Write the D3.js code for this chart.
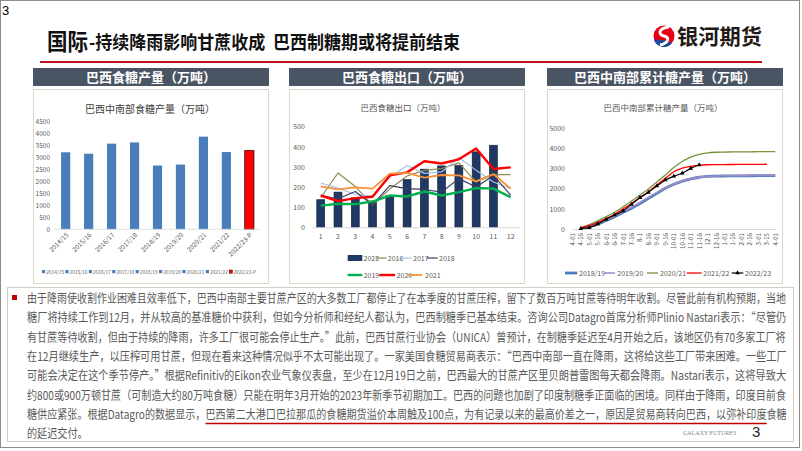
<!DOCTYPE html>
<html>
<head>
<meta charset="utf-8">
<script src="https://cdn.jsdelivr.net/npm/d3@7"></script>
<style>
  body { margin: 0; background: #fff; }
  svg { display: block; }
  text { font-family: "Noto Sans CJK SC", "Noto Sans", sans-serif; }
</style>
</head>
<body>
<svg id="slide" width="802" height="451"></svg>
<script>
// ---- data ----
const prodSeasons = ["2014/15", "2015/16", "2016/17", "2017/18", "2018/19", "2019/20", "2020/21", "2021/22", "2022/23-P"];
const prodValues = [3200, 3140, 3560, 3610, 2650, 2690, 3850, 3210, 3270];
const prodTicks = [0, 500, 1000, 1500, 2000, 2500, 3000, 3500, 4000, 4500];

const exportMonths = ["1", "2", "3", "4", "5", "6", "7", "8", "9", "10", "11", "12"];
const export2022 = [137, 175, 147, 130, 158, 237, 289, 305, 308, 375, 408, null];
const export2016 = [148, 270, 203, 110, 190, 255, 283, 292, 320, 225, 262, 262];
const export2017 = [220, 195, 163, 155, 250, 307, 268, 275, 347, 283, 225, 192];
const export2018 = [158, 142, 178, 112, 207, 192, 188, 175, 242, 200, 258, 160];
const export2019 = [108, 117, 115, 128, 158, 153, 178, 158, 175, 195, 192, 150];
const export2020 = [158, 130, 145, 152, 258, 273, 328, 317, 338, 392, 290, 298];
const export2021 = [203, 188, 198, 192, 267, 270, 247, 260, 258, 228, 265, 192];
const exportTicks = [0, 100, 200, 300, 400, 500];

const cumDates = ["4-01", "4-16", "5-01", "5-16", "6-01", "6-16", "7-01", "7-16", "8-1", "8-16", "9-01", "9-16",
  "10-01", "10-16", "11-01", "11-16", "12-1", "12-16", "1-01", "1-16", "2-01", "2-16", "3-01", "3-15", "4-01"];
const cum1819 = [null, 40, 130, 232, 420, 613, 820, 1026, 1270, 1523, 1770, 2020, 2220, 2380, 2490, 2570, 2610, 2625, 2632, 2636, 2640, 2643, 2646, 2648, 2650];
const cum1920 = [null, 50, 150, 260, 450, 650, 860, 1080, 1320, 1570, 1810, 2050, 2240, 2390, 2500, 2575, 2615, 2635, 2642, 2646, 2650, 2653, 2656, 2658, 2660];
const cum2021 = [null, 70, 220, 400, 610, 830, 1100, 1390, 1690, 1990, 2330, 2680, 3050, 3350, 3570, 3710, 3780, 3810, 3820, 3825, 3830, 3834, 3838, 3842, 3845];
const cum2122 = [null, 60, 170, 330, 520, 730, 990, 1270, 1560, 1850, 2190, 2520, 2840, 3020, 3110, 3170, 3190, 3195, 3200, 3203, 3206, 3209, 3212, 3215, null];
const cum2223 = [null, 20, 70, 250, 480, 695, 895, 1225, 1556, 1820, 2135, 2434, 2620, 2770, 3010, 3180, null, null, null, null, null, null, null, null, null];
const cumTicks = [0, 1000, 2000, 3000, 4000, 5000];

const panelTitles = ["巴西食糖产量（万吨）", "巴西食糖出口（万吨）", "巴西中南部累计糖产量（万吨）"];

const paraLines = [
  "由于降雨使收割作业困难且效率低下，巴西中南部主要甘蔗产区的大多数工厂都停止了在本季度的甘蔗压榨，留下了数百万吨甘蔗等待明年收割。尽管此前有机构预期，当地",
  "糖厂将持续工作到12月，并从较高的基准糖价中获利，但如今分析师和经纪人都认为，巴西制糖季已基本结束。咨询公司Datagro首席分析师Plinio Nastari表示：“尽管仍",
  "有甘蔗等待收割，但由于持续的降雨，许多工厂很可能会停止生产。”此前，巴西甘蔗行业协会（UNICA）曾预计，在制糖季延迟至4月开始之后，该地区仍有70多家工厂将",
  "在12月继续生产，以压榨可用甘蔗，但现在看来这种情况似乎不太可能出现了。一家美国食糖贸易商表示：“巴西中南部一直在降雨，这将给这些工厂带来困难。一些工厂",
  "可能会决定在这个季节停产。”根据Refinitiv的Eikon农业气象仪表盘，至少在12月19日之前，巴西最大的甘蔗产区里贝朗普雷图每天都会降雨。Nastari表示，这将导致大",
  "约800或900万顿甘蔗（可制造大约80万吨食糖）只能在明年3月开始的2023年新季节初期加工。巴西的问题也加剧了印度制糖季正面临的困境。同样由于降雨，印度目前食",
  "糖供应紧张。根据Datagro的数据显示，巴西第二大港口巴拉那瓜的食糖期货溢价本周触及100点，为有记录以来的最高价差之一，原因是贸易商转向巴西，以弥补印度食糖",
  "的延迟交付。"
];
const underlinePrefix = "糖供应紧张。根据Datagro的数据显示，";
const underlineText = "巴西第二大港口巴拉那瓜的食糖期货溢价本周触及100点，为有记录以来的最高价差之一，原因是贸易商转向巴西，以弥补印度";

// ---- drawing ----
const svg = d3.select("#slide");
const tickFont = '"Liberation Sans Narrow", "Liberation Sans", sans-serif';
const grey = "#595959";
const fmt = d3.format("d");

// slide frame and page number
svg.append("rect").attr("x", 0.5).attr("y", 0.5).attr("width", 799).attr("height", 447)
  .attr("fill", "#fff").attr("stroke", "#8c8c8c");
svg.append("text").attr("x", 2).attr("y", 15).attr("font-size", 13).attr("fill", "#000")
  .style("font-family", "Liberation Sans, sans-serif").text("3");

// title
svg.append("text").attr("x", 47).attr("y", 50).attr("font-size", 23).attr("font-weight", "bold")
  .attr("fill", "#111").attr("textLength", 41).attr("lengthAdjust", "spacingAndGlyphs").text("国际");
svg.append("text").attr("x", 89).attr("y", 49).attr("font-size", 18).attr("font-weight", "bold")
  .attr("fill", "#111").attr("textLength", 371).attr("lengthAdjust", "spacingAndGlyphs")
  .attr("xml:space", "preserve").text("-持续降雨影响甘蔗收成  巴西制糖期或将提前结束");
svg.append("line").attr("x1", 40).attr("x2", 762).attr("y1", 62).attr("y2", 62)
  .attr("stroke", "#c0141c").attr("stroke-width", 2);

// logo
const logo = svg.append("g").attr("transform", "translate(664,36)");
logo.append("circle").attr("r", 10.5).attr("fill", "#e60012");
logo.append("path").attr("d", "M-10,2 A10.5,10.5 0 0 0 6,9 C0,9 -5,6 -10,2 Z").attr("fill", "#1b4c9c");
logo.append("path").attr("d", "M-10,4 A10.5,10.5 0 0 0 8,7 C3,5 -2,3 -10,4 Z").attr("fill", "#1b4c9c");
logo.append("path").attr("d", "M5,-9 C-6,-8 -6,-1 0,0 C6,1 5,7 -4,9")
  .attr("fill", "none").attr("stroke", "#fff").attr("stroke-width", 3);
svg.append("text").attr("x", 677).attr("y", 44).attr("font-size", 21).attr("font-weight", "bold")
  .attr("fill", "#231916").attr("textLength", 85).attr("lengthAdjust", "spacingAndGlyphs").text("银河期货");

// panel frames and headers
const panelX = [33, 289, 547];
const panelW = 236;
panelX.forEach((px, i) => {
  svg.append("rect").attr("x", px + 0.5).attr("y", 89.5).attr("width", panelW - 1).attr("height", 194)
    .attr("fill", "#fff").attr("stroke", "#dcd7cb");
  svg.append("rect").attr("x", px).attr("y", 68).attr("width", panelW).attr("height", 18).attr("fill", "#4a5563");
  svg.append("text").attr("x", px + panelW / 2).attr("y", 82).attr("text-anchor", "middle")
    .attr("font-size", 13).attr("font-weight", "bold").attr("fill", "#fff").text(panelTitles[i]);
});

function styleAxis(g, size) {
  g.select(".domain").remove();
  g.selectAll("text").attr("font-family", tickFont).attr("font-size", size).attr("fill", grey);
}

// ---- chart 1: production bars ----
{
  const g = svg.append("g");
  const x = d3.scaleBand().domain(prodSeasons).range([54.2, 260.8]).paddingInner(0.6).paddingOuter(0.3);
  const y = d3.scaleLinear().domain([0, 4500]).range([229.3, 121]);

  g.append("text").attr("x", 150).attr("y", 113).attr("text-anchor", "middle")
    .attr("font-size", 10).attr("fill", "#404040").text("巴西中南部食糖产量（万吨）");

  g.append("g").attr("transform", "translate(53,0)")
    .call(d3.axisLeft(y).tickValues(prodTicks).tickFormat(fmt).tickSize(0).tickPadding(3))
    .call(a => styleAxis(a, 6.5));

  g.selectAll("rect.bar").data(prodValues).join("rect").attr("class", "bar")
    .attr("x", (d, i) => x(prodSeasons[i])).attr("width", x.bandwidth())
    .attr("y", d => y(d)).attr("height", d => y(0) - y(d))
    .attr("fill", (d, i) => i === prodSeasons.length - 1 ? "#ff0000" : "#4a7ebb")
    .attr("stroke", (d, i) => i === prodSeasons.length - 1 ? "#3a0000" : "none")
    .attr("stroke-width", 0.8);

  g.append("line").attr("x1", 54).attr("x2", 261).attr("y1", y(0)).attr("y2", y(0))
    .attr("stroke", "#d9d9d9").attr("stroke-width", 0.8);

  g.selectAll("text.xl").data(prodSeasons).join("text").attr("class", "xl")
    .attr("transform", d => `translate(${x(d) + x.bandwidth() / 2 + 2},234) rotate(-45)`)
    .attr("text-anchor", "end").attr("dy", "0.3em")
    .attr("font-family", tickFont).attr("font-size", 6.5).attr("fill", grey).text(d => d);

  const lg = g.append("g").attr("transform", "translate(42,272)");
  prodSeasons.forEach((s, i) => {
    const it = lg.append("g").attr("transform", `translate(${i * 23.4},0)`);
    it.append("rect").attr("x", 0).attr("y", -2).attr("width", 3.2).attr("height", 3.2)
      .attr("fill", i === prodSeasons.length - 1 ? "#ff0000" : "#4a7ebb")
      .attr("stroke", i === prodSeasons.length - 1 ? "#3a0000" : "none").attr("stroke-width", 0.5);
    it.append("text").attr("x", 4.2).attr("y", 1.6).attr("font-family", tickFont)
      .attr("font-size", 4.8).attr("fill", grey).text(s);
  });
}

// ---- chart 2: exports ----
{
  const g = svg.append("g");
  const x = d3.scaleBand().domain(exportMonths).range([312.1, 519.3]).paddingInner(0.54).paddingOuter(0.27);
  const y = d3.scaleLinear().domain([0, 500]).range([227.3, 126.7]);
  const cx = m => x(m) + x.bandwidth() / 2;

  g.append("text").attr("x", 403).attr("y", 111).attr("text-anchor", "middle")
    .attr("font-size", 8.5).attr("fill", grey).text("巴西食糖出口（万吨）");

  g.append("g").attr("transform", "translate(306,0)")
    .call(d3.axisLeft(y).tickValues(exportTicks).tickFormat(fmt).tickSize(0).tickPadding(1))
    .call(a => styleAxis(a, 7));

  g.selectAll("rect.bar").data(export2022).join("rect").attr("class", "bar")
    .filter(d => d != null)
    .attr("x", (d, i) => x(exportMonths[i])).attr("width", x.bandwidth())
    .attr("y", d => y(d)).attr("height", d => y(0) - y(d))
    .attr("fill", "#203864").attr("stroke", "#0e1a30").attr("stroke-width", 0.6);

  g.append("g").attr("transform", `translate(0,${y(0)})`)
    .call(d3.axisBottom(x).tickSize(0).tickSizeOuter(0).tickPadding(7))
    .call(a => {
      a.select(".domain").attr("stroke", "#d9d9d9");
      a.selectAll("text").attr("font-family", tickFont).attr("font-size", 7).attr("fill", grey);
    });

  const series = [
    { name: "2016", values: export2016, color: "#8f8a4f", width: 1.2 },
    { name: "2017", values: export2017, color: "#a7c2e8", width: 1.2 },
    { name: "2018", values: export2018, color: "#3f3a66", width: 1.2 },
    { name: "2019", values: export2019, color: "#00b050", width: 2.4 },
    { name: "2020", values: export2020, color: "#ff0000", width: 2.4 },
    { name: "2021", values: export2021, color: "#f7923a", width: 1.8 }
  ];
  const line = d3.line().x((d, i) => cx(exportMonths[i])).y(d => y(d));
  series.forEach(s => {
    g.append("path").attr("d", line(s.values)).attr("fill", "none")
      .attr("stroke", s.color).attr("stroke-width", s.width).attr("stroke-linejoin", "round");
  });

  // legend
  const row1 = g.append("g").attr("transform", "translate(0,258)");
  row1.append("rect").attr("x", 347.7).attr("y", -3).attr("width", 14.6).attr("height", 6).attr("fill", "#203864");
  row1.append("text").attr("x", 363.5).attr("y", 2.5).attr("font-family", tickFont).attr("font-size", 7).attr("fill", grey).text("2022");
  const pos1 = [[375.7, 386.7, 387.8], [401, 411.7, 413], [426.7, 437.7, 439]];
  series.slice(0, 3).forEach((s, i) => {
    row1.append("line").attr("x1", pos1[i][0]).attr("x2", pos1[i][1]).attr("stroke", s.color).attr("stroke-width", s.width);
    row1.append("text").attr("x", pos1[i][2]).attr("y", 2.5).attr("font-family", tickFont).attr("font-size", 7).attr("fill", grey).text(s.name);
  });
  const row2 = g.append("g").attr("transform", "translate(0,275)");
  const pos2 = [[347.7, 362.3, 363.7], [379.3, 395, 396.7], [408.3, 422.3, 425]];
  series.slice(3).forEach((s, i) => {
    row2.append("line").attr("x1", pos2[i][0]).attr("x2", pos2[i][1]).attr("stroke", s.color).attr("stroke-width", s.width);
    row2.append("text").attr("x", pos2[i][2]).attr("y", 2.5).attr("font-family", tickFont).attr("font-size", 7).attr("fill", grey).text(s.name);
  });
}

// ---- chart 3: cumulative production ----
{
  const g = svg.append("g");
  const x = d3.scalePoint().domain(cumDates.map((d, i) => i)).range([572.3, 775.3]);
  const y = d3.scaleLinear().domain([0, 5000]).range([229, 128.3]);

  g.append("text").attr("x", 663).attr("y", 111).attr("text-anchor", "middle")
    .attr("font-size", 8.5).attr("fill", grey).text("巴西中南部累计糖产量（万吨）");

  g.append("g").attr("transform", "translate(567,0)")
    .call(d3.axisLeft(y).tickValues(cumTicks).tickFormat(fmt).tickSize(0).tickPadding(2))
    .call(a => styleAxis(a, 7));

  g.append("g").attr("transform", `translate(0,${y(0)})`)
    .call(d3.axisBottom(x).tickSize(0).tickSizeOuter(0).tickFormat(i => cumDates[i]))
    .call(a => {
      a.select(".domain").attr("stroke", "#d9d9d9");
      a.selectAll("text").attr("font-family", tickFont).attr("font-size", 6.2).attr("fill", grey)
        .attr("y", 0).attr("dy", "0.32em").attr("transform", "translate(0,4) rotate(-90)")
        .style("text-anchor", "end");
    });

  const series = [
    { name: "2018/19", values: cum1819, color: "#4a7ebb", width: 2.8 },
    { name: "2019/20", values: cum1920, color: "#a08cc8", width: 1.6 },
    { name: "2020/21", values: cum2021, color: "#77933c", width: 1.3 },
    { name: "2021/22", values: cum2122, color: "#ff0000", width: 1.3 },
    { name: "2022/23", values: cum2223, color: "#000000", width: 1.2 }
  ];
  const line = d3.line().defined(d => d != null).curve(d3.curveMonotoneX)
    .x((d, i) => x(i)).y(d => y(d));
  series.forEach(s => {
    g.append("path").attr("d", line(s.values)).attr("fill", "none")
      .attr("stroke", s.color).attr("stroke-width", s.width);
  });
  const tri = d3.symbol().type(d3.symbolTriangle).size(9);
  g.selectAll("path.mk").data(cum2223.map((v, i) => [i, v]).filter(d => d[1] != null)).join("path")
    .attr("class", "mk").attr("d", tri).attr("fill", "#000")
    .attr("transform", d => `translate(${x(d[0])},${y(d[1])})`);

  const lg = g.append("g").attr("transform", "translate(0,273)");
  const pos = [[565, 577.3, 579], [605, 615, 617.3], [646.7, 658, 660], [686.7, 701.7, 703.3], [731.7, 743.3, 745]];
  series.forEach((s, i) => {
    lg.append("line").attr("x1", pos[i][0]).attr("x2", pos[i][1]).attr("stroke", s.color).attr("stroke-width", s.width);
    if (i === 4) lg.append("path").attr("d", tri).attr("transform", `translate(${(pos[i][0] + pos[i][1]) / 2},0)`);
    lg.append("text").attr("x", pos[i][2]).attr("y", 2.5).attr("font-family", tickFont)
      .attr("font-size", 7).attr("fill", grey).text(s.name);
  });
}

// ---- text box ----
svg.append("rect").attr("x", 7.5).attr("y", 287.5).attr("width", 786).attr("height", 154)
  .attr("fill", "#fff").attr("stroke", "#d3cec4");
svg.append("rect").attr("x", 12).attr("y", 295).attr("width", 5).attr("height", 5).attr("fill", "#c00000");

const textX = 27, textW = 760, fontSize = 12;
const lineY = d3.range(paraLines.length).map(i => 303 + i * 19.35);
const measure = s => {
  const t = svg.append("text").attr("font-size", fontSize).attr("xml:space", "preserve").text(s);
  const w = t.node().getComputedTextLength();
  t.remove();
  return w;
};
const ratios = paraLines.slice(0, -1).map(s => textW / measure(s));
const lastRatio = d3.mean(ratios);
paraLines.forEach((s, i) => {
  const r = i < paraLines.length - 1 ? ratios[i] : lastRatio;
  svg.append("text").attr("transform", `translate(${textX},${lineY[i]}) scale(${r},1)`)
    .attr("font-size", fontSize).attr("fill", grey).attr("xml:space", "preserve").text(s);
});
// underline on line 7
{
  const full = measure(paraLines[6]);
  const a = measure(underlinePrefix), b = measure(underlinePrefix + underlineText);
  svg.append("line").attr("x1", textX + a / full * textW).attr("x2", textX + b / full * textW)
    .attr("y1", lineY[6] + 4.5).attr("y2", lineY[6] + 4.5).attr("stroke", "#c00000").attr("stroke-width", 1.5);
}

svg.append("text").attr("x", 683).attr("y", 435).attr("font-size", 6).attr("fill", "#7f7f7f")
  .style("font-family", "Liberation Serif, serif").text("GALAXY FUTURES");
svg.append("text").attr("x", 752).attr("y", 437).attr("font-size", 15).attr("fill", "#262626")
  .style("font-family", "Liberation Sans, sans-serif").text("3");
</script>
</body>
</html>
